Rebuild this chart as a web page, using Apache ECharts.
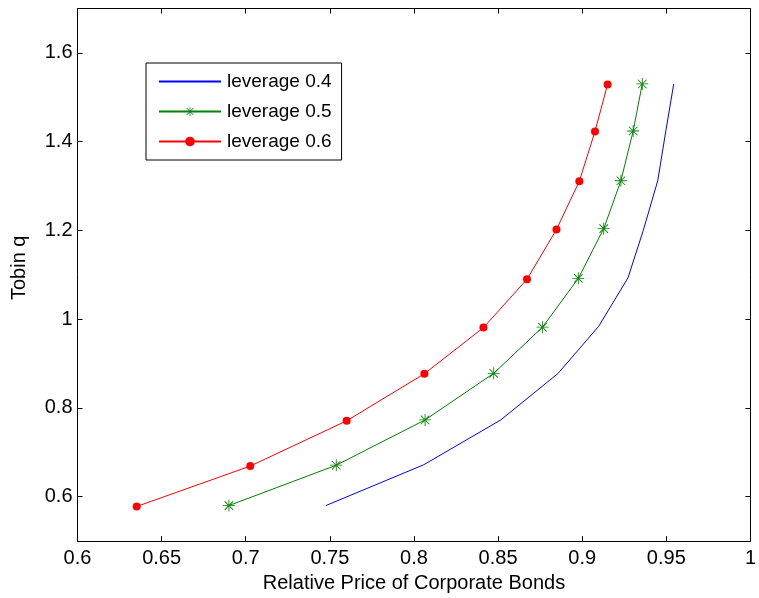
<!DOCTYPE html>
<html>
<head>
<meta charset="utf-8">
<script src="https://cdn.jsdelivr.net/npm/echarts@6/dist/echarts.min.js"></script>
<style>html,body{margin:0;padding:0;background:#fff;}#c{width:759px;height:598px;}</style>
</head>
<body>
<div id="c"></div>
<script>
// Data
var price04 = [0.7476, 0.8058, 0.8516, 0.8857, 0.9098, 0.9272, 0.9363, 0.9449, 0.9497, 0.9544];
var q04     = [0.580, 0.672, 0.773, 0.878, 0.984, 1.093, 1.200, 1.312, 1.424, 1.530];
var price05 = [0.6900, 0.7538, 0.8066, 0.8474, 0.8764, 0.8977, 0.9128, 0.9230, 0.9303, 0.9357];
var q05     = [0.580, 0.671, 0.773, 0.878, 0.982, 1.092, 1.204, 1.312, 1.424, 1.530];
var price06 = [0.6352, 0.7027, 0.7600, 0.8062, 0.8413, 0.8672, 0.8847, 0.8983, 0.9076, 0.9151];
var q06     = [0.578, 0.669, 0.771, 0.877, 0.981, 1.090, 1.202, 1.311, 1.423, 1.529];
var seriesNames = ['leverage 0.4', 'leverage 0.5', 'leverage 0.6'];
var yTicks = [0.6, 0.8, 1.0, 1.2, 1.4, 1.6];
var xTitle = 'Relative Price of Corporate Bonds';
var yTitle = 'Tobin q';

function pairs(xs, ys) { return xs.map(function (x, i) { return [x, ys[i]]; }); }

var FONT = 'Arial, "Liberation Sans", Helvetica, sans-serif';
var asterisk = 'path://M-0.7,-10L0.7,-10L0.7,10L-0.7,10Z M-10,-0.7L10,-0.7L10,0.7L-10,0.7Z ' +
  'M-7.6,-6.6L6.6,7.6L7.6,6.6L-6.6,-7.6Z M7.6,-6.6L-6.6,7.6L-7.6,6.6L6.6,-7.6Z';

var chart = echarts.init(document.getElementById('c'), null, {renderer: 'canvas'});
function tick(custom) {
  var t = {show: true, inside: true, length: 5, lineStyle: {color: '#000', width: 1}};
  if (custom) t.customValues = custom;
  return t;
}
var lineAx = {show: true, onZero: false, lineStyle: {color: '#000', width: 1}};
chart.setOption({
  animation: false,
  backgroundColor: '#fff',
  grid: {left: 77.5, right: 5.5, top: 8.5, bottom: 56.5, containLabel: false},
  xAxis: [
    {type: 'value', min: 0.6, max: 1, interval: 0.05, position: 'bottom',
     axisLine: lineAx, axisTick: tick(), splitLine: {show: false},
     axisLabel: {color: '#000', fontSize: 20, fontFamily: FONT, margin: 7},
     name: xTitle, nameLocation: 'middle', nameGap: 30,
     nameTextStyle: {color: '#000', fontSize: 20, fontFamily: FONT}},
    {type: 'value', min: 0.6, max: 1, interval: 0.05, position: 'top',
     axisLine: lineAx, axisTick: tick(), splitLine: {show: false},
     axisLabel: {show: false}}
  ],
  yAxis: [
    {type: 'value', min: 0.5, max: 1.7, position: 'left',
     axisLine: lineAx, axisTick: tick(yTicks), splitLine: {show: false},
     axisLabel: {color: '#000', fontSize: 20, fontFamily: FONT, margin: 5, customValues: yTicks},
     name: yTitle, nameLocation: 'middle', nameGap: 48,
     nameTextStyle: {color: '#000', fontSize: 20, fontFamily: FONT, padding: [0, 0, 0, 14]}},
    {type: 'value', min: 0.5, max: 1.7, position: 'right',
     axisLine: lineAx, axisTick: tick(yTicks), splitLine: {show: false},
     axisLabel: {show: false}}
  ],
  legend: {
    orient: 'vertical', left: 146, top: 63,
    padding: [9, 10, 9, 12],
    borderColor: '#000', borderWidth: 1, backgroundColor: '#fff',
    itemWidth: 62, itemHeight: 12, itemGap: 11,
    textStyle: {color: '#000', fontSize: 19, fontFamily: FONT, padding: [0, 0, 0, 1]},
    data: [
      {name: seriesNames[0], itemStyle: {opacity: 0}},
      {name: seriesNames[1]},
      {name: seriesNames[2]}
    ]
  },
  series: [
    {name: seriesNames[0], type: 'line', data: pairs(price04, q04), symbol: 'none',
     lineStyle: {color: '#0000FF', width: 1}, itemStyle: {color: '#0000FF'}},
    {name: seriesNames[1], type: 'line', data: pairs(price05, q05), symbol: asterisk, symbolSize: 12,
     showAllSymbol: true,
     lineStyle: {color: '#008000', width: 1}, itemStyle: {color: '#008000'}},
    {name: seriesNames[2], type: 'line', data: pairs(price06, q06), symbol: 'circle', symbolSize: 8,
     showAllSymbol: true,
     lineStyle: {color: '#FF0000', width: 1}, itemStyle: {color: '#FF0000'}}
  ]
});
</script>
</body>
</html>
